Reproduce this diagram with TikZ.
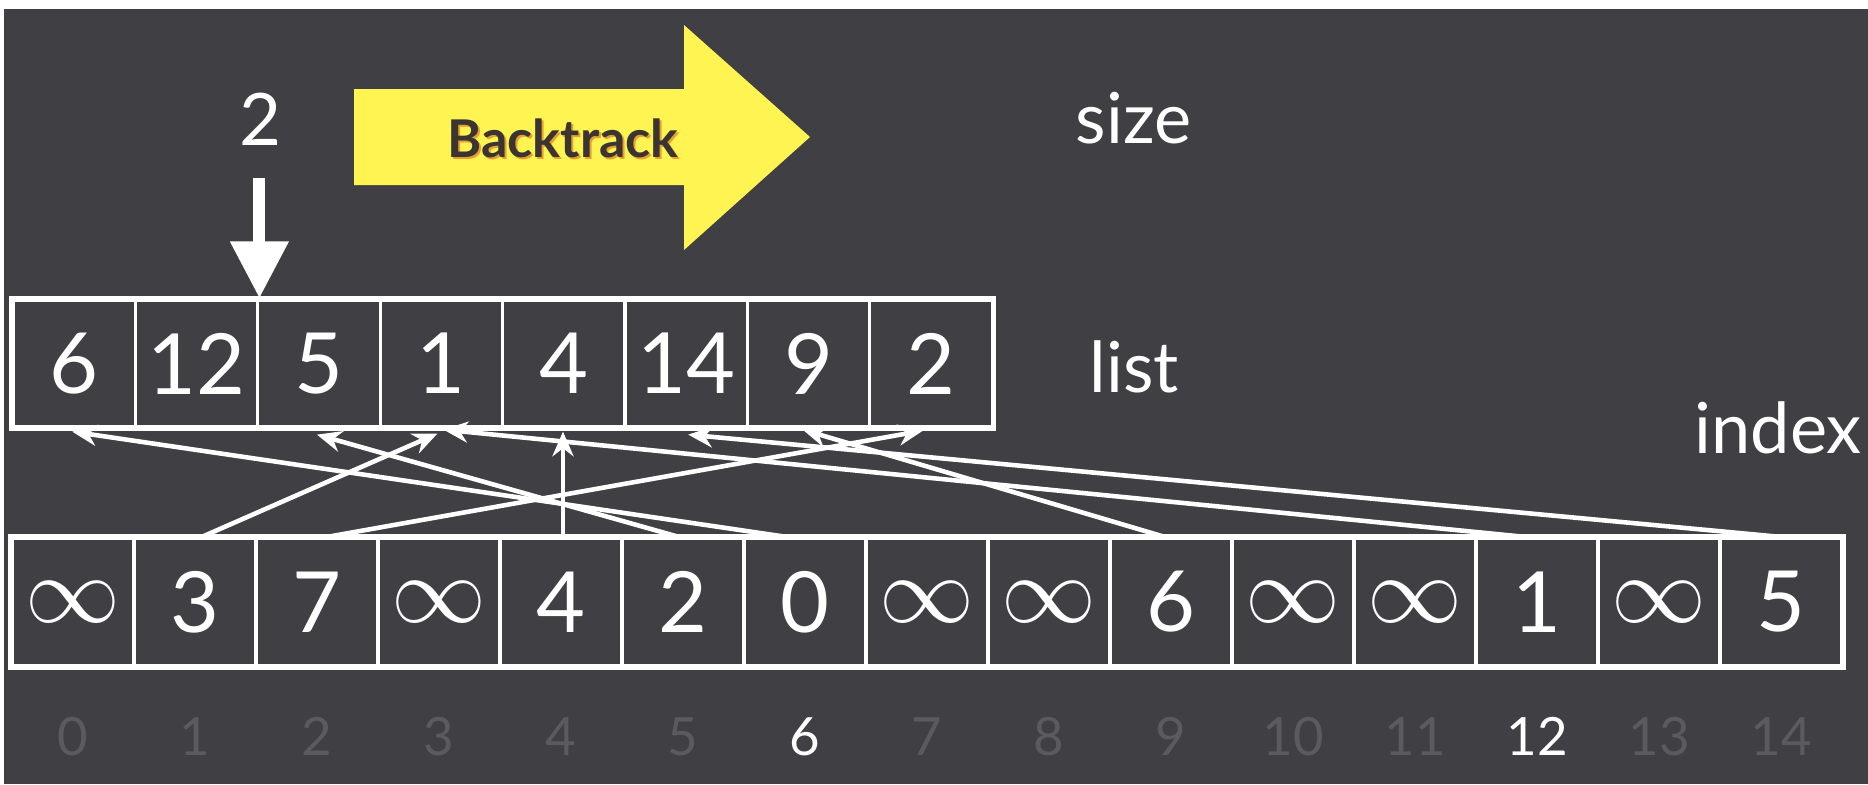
\documentclass[tikz,border=0pt]{standalone}
\usepackage{fontspec}
\setmainfont{Lato}
\usetikzlibrary{arrows.meta,calc}
\definecolor{bg}{RGB}{64,64,68}
\definecolor{dimgray}{RGB}{90,90,95}
\definecolor{arrowyellow}{RGB}{255,244,82}
\definecolor{btext}{RGB}{58,52,50}
\definecolor{glow}{RGB}{225,140,40}
\newcommand{\infsym}{\scalebox{1.3}{\fontsize{21}{21}\selectfont$\infty$}}
\begin{document}
\begin{tikzpicture}[x=0.01cm,y=-0.01cm,
  lcell/.style={draw=white, line width=0.9pt, minimum width=1.224cm, minimum height=1.27cm,
    inner sep=0pt, text=white, font=\fontsize{24}{24}\selectfont, anchor=center},
  icell/.style={draw=white, line width=0.9pt, minimum width=1.22cm, minimum height=1.28cm,
    inner sep=0pt, text=white, font=\fontsize{24}{24}\selectfont, anchor=center},
  frame/.style={draw=white, line width=1.3pt},
  link/.style={draw=white, line width=1.3pt, -{Stealth[length=7pt,width=6pt]}},
  lbl/.style={text=white, font=\fontsize{20}{20}\selectfont, anchor=base west, inner sep=0pt},
  idx/.style={text=dimgray, font=\fontsize{15}{15}\selectfont, anchor=base, inner sep=0pt},
  idxon/.style={idx, text=white},
  bigarrow/.style={fill=arrowyellow},
  pointer/.style={draw=white, line width=3.4pt, -{Triangle[length=16.2pt,width=15.8pt]}},
]
% background
\fill[white] (0,0) rectangle (1868,784);
\fill[bg] (4,9) rectangle (1868,784);
\useasboundingbox (0,0) rectangle (1868,784);

% yellow Backtrack arrow
\fill[bigarrow] (354,89) -- (684,89) -- (684,25) -- (810,137) -- (684,250) -- (684,185) -- (354,185) -- cycle;
\node[text=glow, opacity=0.8, font=\bfseries\fontsize{14.8}{14.8}\selectfont, anchor=base, inner sep=0pt] (btglow) at (565,159.5) {Backtrack};
\node[text=btext, font=\bfseries\fontsize{14.8}{14.8}\selectfont, anchor=base, inner sep=0pt] (bt) at (563,157) {Backtrack};

% labels
\node[text=white, font=\fontsize{20.6}{20.6}\selectfont, inner sep=0pt] (two) at (261,119) {2};
\node[lbl] (size) at (1075,143) {size};
\node[lbl] (list) at (1089,392) {list};
\node[lbl] (index) at (1694,453) {index};

% list array
\foreach \v [count=\i from 0] in {6,12,5,1,4,14,9,2}
  \node[lcell] (L\i) at ({74.2+122.4*\i},363.5) {\v};
\draw[frame] (L0.north west) rectangle (L7.south east);

% index array
\foreach \v [count=\i from 0] in {\infsym,3,7,\infsym,4,2,0,\infsym,\infsym,6,\infsym,\infsym,1,\infsym,5}
  \node[icell] (I\i) at ({73+122*\i},602) {\v};
\draw[frame] (I0.north west) rectangle (I14.south east);

% index numbers below
\foreach \i in {0,...,14}{
  \ifnum\i=6 \def\st{idxon}\else\ifnum\i=12 \def\st{idxon}\else\def\st{idx}\fi\fi
  \node[\st] (N\i) at ({73+122*\i},755) {\i};
}

% pointer from "2"
\draw[pointer] ($(L1.north east |- two.south)+(0,32)$) -- (L1.north east);

% links index -> list
\draw[link] ($(I1.north)+(8,0)$) -- ($(L3.south)+(-4,5)$);
\draw[link] ($(I2.north)+(13,0)$) -- ($(L7.south)+(-8,2)$);
\draw[link] ($(I4.north)+(2,0)$) -- ($(L4.south)+(-0.8,3)$);
\draw[link] ($(I5.north)+(-6,0)$) -- ($(L2.south)+(-2,6)$);
\draw[link] ($(I6.north)+(-22,0)$) -- ($(L0.south)+(-2,3)$);
\draw[link] ($(I9.north)+(-8,0)$) -- ($(L6.south)+(-6,1)$);
\draw[link] ($(I12.north)+(-17,0)$) -- ($(L3.south)+(2,1)$);
\draw[link] ($(I14.north)+(-6,0)$) -- ($(L5.south)+(2,6)$);
\end{tikzpicture}
\end{document}
